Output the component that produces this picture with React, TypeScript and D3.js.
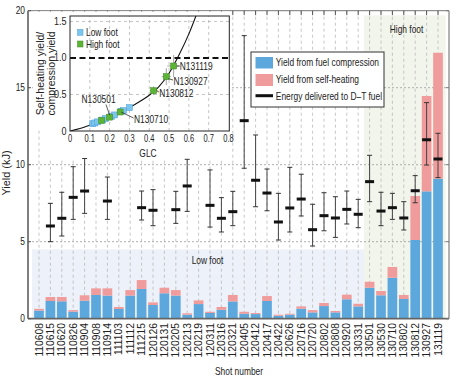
import React from 'react';
import * as d3 from 'd3';

// ---------- main chart data ----------
const shots = ['110608','110615','110620','110826','110904','110908','110914','111103','111112','111215','120126','120131','120205','120213','120219','120311','120316','120321','120405','120412','120417','120422','120626','120716','120720','120802','120808','120920','130331','130501','130530','130710','130802','130812','130927','131119'];
const compressionYield = [0.53,1.15,1.13,0.46,1.17,1.54,1.50,0.63,1.50,1.93,0.89,1.65,1.50,0.26,0.95,0.37,0.58,1.12,0.32,0.30,1.15,0.19,0.26,0.65,0.41,0.82,0.41,1.26,0.80,2.01,1.52,2.66,1.28,5.11,8.27,9.09];
const selfHeatingYield = [0.11,0.26,0.28,0.10,0.35,0.43,0.47,0.13,0.36,0.58,0.17,0.36,0.36,0.09,0.24,0.08,0.18,0.42,0.13,0.07,0.32,0.07,0.06,0.15,0.15,0.20,0.09,0.30,0.17,0.39,0.28,0.70,0.26,2.86,6.19,8.18];
const energyDelivered: (number | null)[] = [null,6.02,6.52,7.88,8.29,null,7.64,null,null,7.21,7.04,null,7.08,8.62,null,7.36,6.52,6.95,12.86,8.99,8.16,6.28,7.19,7.77,5.78,6.69,6.54,7.10,6.78,8.90,6.99,7.21,6.54,8.31,11.62,10.37];
const energyLow: (number | null)[] = [null,5.00,5.37,6.45,6.84,null,6.45,null,null,6.41,6.04,null,6.19,6.97,null,5.95,5.63,6.04,9.77,7.27,7.01,5.11,5.63,6.67,4.72,5.71,5.28,6.15,5.91,7.60,6.04,6.45,5.76,7.53,9.98,9.16];
const energyHigh: (number | null)[] = [null,7.49,8.21,9.87,10.40,null,9.20,null,null,8.29,8.38,null,8.27,10.35,null,9.66,7.86,8.27,18.38,11.93,9.72,8.14,9.83,9.38,7.43,8.18,7.92,8.29,7.75,10.61,8.21,8.14,7.60,9.29,14.03,12.04];
const yTicks = [0, 5, 10, 15, 20];
const gridY = [5, 10, 15];
const regionLabels = ['Low foot', 'High foot'];
const regionFirst = ['110608', '130501'];
const regionLast = ['130331', '131119'];
const regionTop = [4.5, 19.7];
const legendLabels = ['Yield from fuel compression', 'Yield from self-heating', 'Energy delivered to D\u2013T fuel'];

// ---------- inset data ----------
const curveGLC = [0, 0.05, 0.1, 0.15, 0.2, 0.25, 0.3, 0.35, 0.4, 0.45, 0.5, 0.55, 0.6, 0.65];
const curveRatio = [0, 0.035, 0.08, 0.13, 0.19, 0.25, 0.32, 0.4, 0.49, 0.61, 0.79, 1.04, 1.33, 1.68];
const lowFootGLC = [0.115, 0.125, 0.14, 0.165, 0.18, 0.21, 0.225, 0.26, 0.27, 0.3];
const lowFootRatio = [0.1, 0.11, 0.125, 0.15, 0.17, 0.2, 0.22, 0.27, 0.28, 0.32];
const highFootGLC = [0.16, 0.2, 0.253, 0.422, 0.486, 0.523];
const highFootRatio = [0.145, 0.19, 0.26, 0.552, 0.744, 0.89];
const highFootGLCErr = [0, 0, 0, 0.02, 0.023, 0.032];
const highFootRatioLo = [0.145, 0.19, 0.26, 0.49, 0.63, 0.74];
const highFootRatioHi = [0.145, 0.19, 0.26, 0.61, 0.86, 1.04];
const insetXTicks = [0, 0.1, 0.2, 0.3, 0.4, 0.5, 0.6, 0.7, 0.8];
const insetYTicks = [0, 0.5, 1.0, 1.5];
const insetLegend = ['Low foot', 'High foot'];

const BLUE = '#5ca8dd';
const PINK = '#f19c9c';
const LBLUE = '#7cc5ee';
const GREEN = '#5cb434';

function T(props: any) {
  const { x, y, children, size = 10.5, sx = 0.8, anchor = 'start', rot = 0, dy, fill = '#222' } = props;
  return (
    <text transform={`translate(${x},${y}) rotate(${rot}) scale(${sx},1)`} fontSize={size} textAnchor={anchor} dy={dy} fill={fill}>
      {children}
    </text>
  );
}

export default function App() {
  const W = 458, H = 381;
  const left = 28, right = 449;
  const x = d3.scaleBand<string>().domain(shots).range([33.3, 443.7]).paddingInner(0.15).paddingOuter(0.075);
  const y = d3.scaleLinear().domain([0, 20]).range([318.7, 10.7]);
  const cx = (s: string) => (x(s) as number) + x.bandwidth() / 2;
  const step = x.step();

  // inset scales
  const ix = d3.scaleLinear().domain([0, 0.8]).range([70, 228.5]);
  const iy = d3.scaleLinear().domain([0, 1.575]).range([131, 16]);
  const curve = d3.line<number>().x((d, i) => ix(curveGLC[i])).y((d, i) => iy(curveRatio[i])).curve(d3.curveMonotoneX);

  const bars = shots.map((s, i) => ({ s, c: compressionYield[i], h: selfHeatingYield[i] }));

  return (
    <svg width={W} height={H} style={{ position: 'absolute', left: 0, top: 0 }} fontFamily="'Liberation Sans', Arial, Helvetica, sans-serif">
      <rect x={0} y={0} width={W} height={H} fill="#fff" />
      {/* regions */}
      {regionLabels.map((lab, k) => {
        const x0 = k === 0 ? 32 : (cx(regionFirst[k]) - step / 2);
        const x1 = k === 0 ? (cx(regionLast[k]) + step / 2) : 445.7;
        return (
          <rect key={lab} x={x0} y={y(regionTop[k])} width={x1 - x0} height={y(0) - y(regionTop[k])} fill={k === 0 ? '#edf1f9' : '#f2f5ec'} />
        );
      })}
      {/* grid */}
      {shots.map(s => (
        <line key={'g' + s} x1={cx(s)} x2={cx(s)} y1={y(20)} y2={y(0)} stroke="#b8b8b8" strokeWidth={0.8} strokeDasharray="3,3" />
      ))}
      {gridY.map(v => (
        <line key={'gy' + v} x1={left} x2={right} y1={y(v)} y2={y(v)} stroke="#9a9a9a" strokeWidth={0.8} strokeDasharray="2,2" />
      ))}
      {/* bars */}
      {bars.map(b => (
        <g key={'b' + b.s}>
          <rect x={x(b.s)} width={x.bandwidth()} y={y(b.c)} height={y(0) - y(b.c)} fill={BLUE} />
          <rect x={x(b.s)} width={x.bandwidth()} y={y(b.c + b.h)} height={y(b.c) - y(b.c + b.h)} fill={PINK} />
        </g>
      ))}
      {/* error bars + markers */}
      {shots.map((s, i) => {
        const e = energyDelivered[i];
        if (e == null) return null;
        const lo = energyLow[i] as number, hi = energyHigh[i] as number;
        const c = cx(s);
        return (
          <g key={'e' + s}>
            <line x1={c} x2={c} y1={y(lo)} y2={y(hi)} stroke="#444" strokeWidth={1} />
            <line x1={c - 2.5} x2={c + 2.5} y1={y(lo)} y2={y(lo)} stroke="#333" strokeWidth={1} />
            <line x1={c - 2.5} x2={c + 2.5} y1={y(hi)} y2={y(hi)} stroke="#333" strokeWidth={1} />
            <rect x={c - 4.5} y={y(e) - 1.5} width={9} height={3} fill="#111" />
          </g>
        );
      })}
      {/* frame */}
      <line x1={left} x2={right} y1={y(20)} y2={y(20)} stroke="#777" strokeWidth={1} />
      <line x1={right} x2={right} y1={y(20)} y2={y(0)} stroke="#999" strokeWidth={1.5} />
      <line x1={left} x2={left} y1={y(20)} y2={y(0)} stroke="#555" strokeWidth={1.5} />
      <line x1={left} x2={right} y1={y(0)} y2={y(0)} stroke="#666" strokeWidth={1.8} />
      {shots.map(s => (
        <line key={'tt' + s} x1={cx(s)} x2={cx(s)} y1={y(20)} y2={y(20) + 4.5} stroke="#555" strokeWidth={1} />
      ))}
      {yTicks.map(v => (
        <g key={'yt' + v}>
          <line x1={left} x2={left + 3} y1={y(v)} y2={y(v)} stroke="#555" />
          <line x1={right - 3} x2={right} y1={y(v)} y2={y(v)} stroke="#777" />
          <T x={25} y={y(v)} dy="0.35em" anchor="end" size={10.5} sx={0.8}>{String(v)}</T>
        </g>
      ))}
      {shots.map(s => (
        <T key={'xl' + s} x={cx(s)} y={323} rot={-90} anchor="end" dy="0.35em" size={10.3} sx={1.0}>{s}</T>
      ))}
      <T x={239} y={375} anchor="middle" size={10.5} sx={0.8}>Shot number</T>
      <T x={6} y={173} rot={-90} anchor="middle" dy="0.35em" size={11.5} sx={0.95}>Yield (kJ)</T>
      {/* region labels */}
      <T x={207.5} y={263.5} anchor="middle" size={10.5} sx={0.8}>{regionLabels[0]}</T>
      <T x={406.5} y={32.8} anchor="middle" size={10.5} sx={0.8}>{regionLabels[1]}</T>

      {/* legend */}
      <rect x={251} y={52} width={133} height={55} fill="#fff" stroke="#333" strokeWidth={1} />
      <rect x={255.5} y={57} width={17.5} height={11.5} fill={BLUE} />
      <rect x={255.5} y={74} width={17.5} height={12} fill={PINK} />
      <line x1={255.5} x2={273} y1={95.7} y2={95.7} stroke="#111" strokeWidth={3} />
      {legendLabels.map((l, i) => (
        <T key={l} x={275.8} y={62.5 + i * 16.8} dy="0.35em" size={10.5} sx={0.8}>{l}</T>
      ))}

      {/* inset */}
      <path d="M33,11.5 L229.5,11.5 L229.5,158 L45,158 L45,128 L33,128 Z" fill="#fff" />
      {insetXTicks.slice(1, -1).map(v => (
        <line key={'ixg' + v} x1={ix(v)} x2={ix(v)} y1={iy(0)} y2={iy(1.575)} stroke="#b5b5b5" strokeWidth={0.8} strokeDasharray="3,3" />
      ))}
      {[0.5, 1.5].map(v => (
        <line key={'iyg' + v} x1={ix(0)} x2={229} y1={iy(v)} y2={iy(v)} stroke="#b5b5b5" strokeWidth={0.8} strokeDasharray="3,3" />
      ))}
      <line x1={ix(0)} x2={229} y1={iy(1)} y2={iy(1)} stroke="#111" strokeWidth={1.8} strokeDasharray="6,3.5" />
      <clipPath id="insetClip"><rect x={70} y={16} width={159} height={115} /></clipPath>
      <path d={curve(curveGLC) || ''} fill="none" stroke="#111" strokeWidth={1.1} clipPath="url(#insetClip)" />
      {/* error bars on high foot */}
      {highFootGLC.map((g, i) => highFootGLCErr[i] > 0 ? (
        <g key={'ie' + i} stroke="#999" strokeWidth={0.9}>
          <line x1={ix(g - highFootGLCErr[i])} x2={ix(g + highFootGLCErr[i])} y1={iy(highFootRatio[i])} y2={iy(highFootRatio[i])} />
          <line x1={ix(g)} x2={ix(g)} y1={iy(highFootRatioLo[i])} y2={iy(highFootRatioHi[i])} />
        </g>
      ) : null)}
      {lowFootGLC.map((g, i) => (
        <rect key={'lf' + i} x={ix(g) - 3} y={iy(lowFootRatio[i]) - 3} width={6} height={6} fill={LBLUE} stroke="#4a9fd6" strokeWidth={0.5} />
      ))}
      {highFootGLC.map((g, i) => (
        <rect key={'hf' + i} x={ix(g) - 3} y={iy(highFootRatio[i]) - 3} width={6} height={6} fill={GREEN} stroke="#3d8a22" strokeWidth={0.5} />
      ))}
      {/* annotations */}
      <line x1={ix(0.523) + 3} x2={179.5} y1={iy(0.89)} y2={iy(0.89)} stroke="#333" strokeWidth={0.8} />
      <T x={179.8} y={66.7} dy="0.35em" size={10.5} sx={0.8}>N131119</T>
      <line x1={ix(0.486) + 2} x2={173} y1={iy(0.744) + 2} y2={80} stroke="#333" strokeWidth={0.8} />
      <T x={173.5} y={81.3} dy="0.35em" size={10.5} sx={0.8}>N130927</T>
      <line x1={ix(0.422) + 3} x2={159} y1={iy(0.552)} y2={92} stroke="#333" strokeWidth={0.8} />
      <T x={159.3} y={93.3} dy="0.35em" size={10.5} sx={0.8}>N130812</T>
      <line x1={106} x2={ix(0.2)} y1={104.5} y2={iy(0.19) - 2} stroke="#333" strokeWidth={0.8} />
      <T x={81.5} y={99.5} dy="0.35em" size={10.5} sx={0.8}>N130501</T>
      <line x1={ix(0.253) + 1} x2={133.5} y1={iy(0.26)} y2={118} stroke="#333" strokeWidth={0.8} />
      <T x={134} y={119.3} dy="0.35em" size={10.5} sx={0.8}>N130710</T>
      {/* inset legend */}
      <rect x={77.5} y={29.3} width={5.5} height={6} fill={LBLUE} stroke="#4a9fd6" strokeWidth={0.5} />
      <T x={86} y={32.3} dy="0.35em" size={10.5} sx={0.8}>{insetLegend[0]}</T>
      <rect x={77.5} y={41} width={5.5} height={6} fill={GREEN} stroke="#3d8a22" strokeWidth={0.5} />
      <T x={86} y={44} dy="0.35em" size={10.5} sx={0.8}>{insetLegend[1]}</T>
      {/* inset frame */}
      <rect x={70} y={16} width={159.3} height={115} fill="none" stroke="#222" strokeWidth={1} />
      {insetXTicks.map(v => (
        <T key={'ixt' + v} x={ix(v)} y={141.5} anchor="middle" size={10} sx={0.75}>{v === 0 ? '0' : v.toFixed(1)}</T>
      ))}
      {insetYTicks.map(v => (
        <T key={'iyt' + v} x={66.5} y={iy(v)} dy="0.35em" anchor="end" size={10} sx={0.9}>{v === 0 ? '0' : v.toFixed(1)}</T>
      ))}
      <T x={148} y={157} anchor="middle" size={10.5} sx={0.8}>GLC</T>
      <T x={40.3} y={73.5} rot={-90} anchor="middle" dy="0.35em" size={10.5} sx={1.0}>Self-heating yield/</T>
      <T x={51.2} y={73.5} rot={-90} anchor="middle" dy="0.35em" size={10.5} sx={1.0}>compression yield</T>
    </svg>
  );
}
